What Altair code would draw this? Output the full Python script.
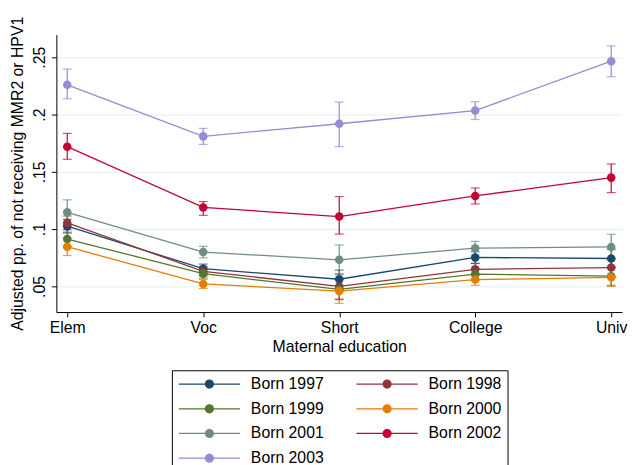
import altair as alt
import pandas as pd
import numpy as np

education = ["Elem", "Voc", "Short", "College", "Univ"]
cohorts = ["Born 1997", "Born 1998", "Born 1999", "Born 2000", "Born 2001", "Born 2002", "Born 2003"]
colors = ["#1a476f", "#90353b", "#55752f", "#e37e00", "#6e8e84", "#c10534", "#938dd2"]

# point estimates per cohort (Elem, Voc, Short, College, Univ)
est_1997 = [0.1026, 0.0655, 0.0563, 0.0753, 0.0744]
est_1998 = [0.1055, 0.0632, 0.0500, 0.0650, 0.0665]
est_1999 = [0.0914, 0.0612, 0.0474, 0.0608, 0.0590]
est_2000 = [0.0847, 0.0522, 0.0460, 0.0560, 0.0580]
est_2001 = [0.1147, 0.0800, 0.0733, 0.0834, 0.0845]
est_2002 = [0.1720, 0.1190, 0.1110, 0.1290, 0.1450]
est_2003 = [0.2260, 0.1810, 0.1920, 0.2035, 0.2466]

lo_1997 = [0.0966, 0.0615, 0.0483, 0.0703, 0.0664]
hi_1997 = [0.1086, 0.0695, 0.0643, 0.0803, 0.0824]
lo_1998 = [0.0995, 0.0592, 0.0390, 0.0600, 0.0585]
hi_1998 = [0.1115, 0.0672, 0.0610, 0.0700, 0.0745]
lo_1999 = [0.0854, 0.0572, 0.0384, 0.0558, 0.0510]
hi_1999 = [0.0974, 0.0652, 0.0564, 0.0658, 0.0670]
lo_2000 = [0.0770, 0.0482, 0.0353, 0.0510, 0.0500]
hi_2000 = [0.0924, 0.0562, 0.0567, 0.0610, 0.0660]
lo_2001 = [0.1042, 0.0750, 0.0603, 0.0774, 0.0735]
hi_2001 = [0.1256, 0.0850, 0.0862, 0.0894, 0.0955]
lo_2002 = [0.1610, 0.1121, 0.0957, 0.1220, 0.1319]
hi_2002 = [0.1836, 0.1241, 0.1284, 0.1360, 0.1569]
lo_2003 = [0.2138, 0.1740, 0.1720, 0.1957, 0.2330]
hi_2003 = [0.2397, 0.1880, 0.2110, 0.2112, 0.2600]

y_ticks = [0.05, 0.10, 0.15, 0.20, 0.25]

ests = [est_1997, est_1998, est_1999, est_2000, est_2001, est_2002, est_2003]
los = [lo_1997, lo_1998, lo_1999, lo_2000, lo_2001, lo_2002, lo_2003]
his = [hi_1997, hi_1998, hi_1999, hi_2000, hi_2001, hi_2002, hi_2003]

rows = []
for c, e, l, h in zip(cohorts, ests, los, his):
    for i, ed in enumerate(education):
        rows.append({"cohort": c, "edu": ed, "idx": i, "est": e[i], "lo": l[i], "hi": h[i]})
df = pd.DataFrame(rows)

FONT = "Liberation Sans"

# legend symbol: a 62px line with an 8px dot in the middle (symbol unit = 7px)
unit = 7.0
line_len = 62.0 / unit
cx = -1 + line_len / 2
r = 4.0 / unit
ang = np.linspace(0, 2 * np.pi, 17)[:-1]
circ = "M" + "L".join(f"{cx + r*np.cos(a):.4f},{r*np.sin(a):.4f}" for a in ang) + "Z"
sym_path = f"M-1,0L{-1 + line_len:.4f},0" + circ

x_enc = alt.X("edu:O", sort=education,
              scale=alt.Scale(type="point", padding=0.08),
              axis=alt.Axis(title="Maternal education", labelAngle=0))
y_scale = alt.Scale(domain=[0.0277, 0.2698], nice=False, zero=False)
y_axis = alt.Axis(title="Adjusted pp. of not receiving MMR2 or HPV1", values=y_ticks,
                  labelExpr="replace(format(datum.value, '.2~f'), '0.', '.')",
                  labelAngle=270, labelAlign="center", labelBaseline="bottom",
                  grid=True)

legend = alt.Legend(orient="none", legendX=117, legendY=340, columns=2, direction="horizontal",
                    strokeColor="black", fillColor="white", padding=6,
                    labelFontSize=16, labelFont=FONT, labelColor="black",
                    symbolType=sym_path, symbolSize=(2 * unit) ** 2, symbolStrokeWidth=1.3,
                    symbolOpacity=1,
                    labelOffset=58, columnPadding=30, rowPadding=9, labelLimit=200)

base = alt.Chart(df)
cscale = alt.Scale(domain=cohorts, range=colors)
col = alt.Color("cohort:N", scale=cscale, legend=legend, title=None)

rules = base.mark_rule(strokeWidth=1.2).encode(
    x=x_enc,
    y=alt.Y("lo:Q", scale=y_scale, axis=y_axis),
    y2="hi:Q",
    color=col,
)
cap_lo = base.mark_tick(orient="horizontal", size=9, thickness=1.2).encode(
    x=x_enc, y=alt.Y("lo:Q", scale=y_scale, axis=y_axis), color=col,
)
cap_hi = base.mark_tick(orient="horizontal", size=9, thickness=1.2).encode(
    x=x_enc, y=alt.Y("hi:Q", scale=y_scale, axis=y_axis), color=col,
)
lines = base.mark_line(strokeWidth=1.3).encode(
    x=x_enc,
    y=alt.Y("est:Q", scale=y_scale, axis=y_axis),
    color=col,
    order="idx:Q",
)
points = base.mark_point(filled=True, size=75, opacity=1, strokeWidth=0).encode(
    x=x_enc,
    y=alt.Y("est:Q", scale=y_scale, axis=y_axis),
    color=col,
)

chart = alt.layer(rules, cap_lo, cap_hi, lines, points).properties(
    width=573, height=281,
    autosize=alt.AutoSizeParams(type="none"),
    padding={"left": 49, "top": 24, "right": 6, "bottom": 152},
).configure_view(stroke=None).configure_axis(
    labelFont=FONT, titleFont=FONT, labelFontSize=16, titleFontSize=16,
    labelColor="black", titleColor="black", titleFontWeight="normal",
    domainColor="black", tickColor="black", tickSize=5, domainWidth=1, tickWidth=1,
    gridColor="#e4eef0", gridWidth=1,
).configure_axisX(grid=False, labelPadding=3, titlePadding=3).configure_axisY(
    labelPadding=4, titlePadding=6)

chart.save("out.html", embed_options={"renderer": "svg", "actions": False})
